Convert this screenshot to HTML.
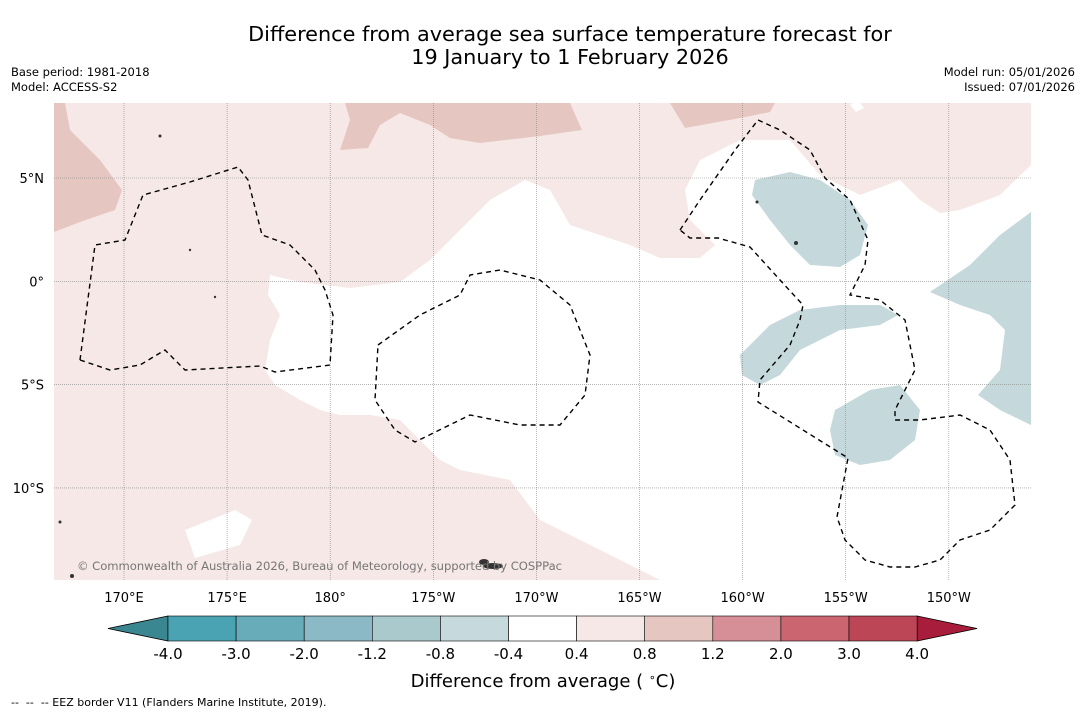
<!DOCTYPE html>
<html><head><meta charset="utf-8"><style>
body{margin:0;background:#fff;width:1085px;height:713px;overflow:hidden;font-family:"DejaVu Sans","Liberation Sans",sans-serif;}
svg{display:block}
</style></head><body>
<svg width="1085" height="713" font-family="DejaVu Sans, Liberation Sans, sans-serif">
<text x="570" y="41" font-size="20.8" text-anchor="middle">Difference from average sea surface temperature forecast for</text>
<text x="570" y="64" font-size="20.8" text-anchor="middle">19 January to 1 February 2026</text>
<text x="11" y="76" font-size="11.5">Base period: 1981-2018</text>
<text x="11" y="91" font-size="11.5">Model: ACCESS-S2</text>
<text x="1075" y="76" font-size="11.5" text-anchor="end">Model run: 05/01/2026</text>
<text x="1075" y="91" font-size="11.5" text-anchor="end">Issued: 07/01/2026</text>
<defs><clipPath id="mc"><rect x="54" y="103" width="977" height="477"/></clipPath></defs>
<g clip-path="url(#mc)">
<rect x="54" y="103" width="977" height="477" fill="#f5e8e6"/>
<polygon fill="#fff" points="270,275 300,282 350,288 400,282 430,260 460,230 490,200 525,180 550,190 570,225 600,235 630,245 660,258 700,258 715,245 690,220 685,190 700,160 740,140 790,140 820,175 860,195 900,180 920,200 940,213 960,210 1000,195 1031,165 1031,580 660,580 620,560 580,540 540,520 510,480 460,470 440,460 420,440 400,420 370,415 340,415 320,410 300,400 275,385 265,370 270,340 280,315 268,295"/>
<polygon fill="#fff" points="185,530 235,510 252,520 240,545 195,558"/>
<polygon fill="#fff" points="850,105 858,100 864,108 856,112"/>
<polygon fill="#e6c6c1" points="54,103 65,103 70,130 100,160 122,190 115,210 80,222 54,232"/>
<polygon fill="#e6c6c1" points="345,103 570,103 582,130 540,136 480,143 450,138 430,125 400,113 380,125 368,148 340,150 350,120"/>
<polygon fill="#e6c6c1" points="670,103 775,103 770,112 740,118 685,128"/>
<polygon fill="#c5d8db" points="755,180 790,172 820,180 850,200 868,225 860,255 840,267 810,265 790,245 770,220 752,195"/>
<polygon fill="#c5d8db" points="740,355 770,325 800,310 840,305 880,305 898,315 880,325 840,330 800,350 780,375 760,385 742,375"/>
<polygon fill="#c5d8db" points="835,410 870,390 900,385 920,410 915,440 890,460 860,465 835,455 830,430"/>
<polygon fill="#c5d8db" points="930,292 970,265 1000,235 1031,212 1031,425 1000,410 978,395 1000,370 1005,330 990,315 960,305"/>
<g id="grid" stroke="#888" stroke-width="0.6" stroke-dasharray="1,1"></g>
<g fill="none" stroke="#000" stroke-width="1.4" stroke-dasharray="5,4">
<polyline points="80,360 95,245 125,240 143,195 190,182 238,167 248,180 262,235 290,245 315,270 325,290 333,315 330,365 275,372 260,366 185,370 165,350 140,365 110,370 80,360"/>
<polyline points="378,345 420,315 460,295 470,275 500,270 540,280 570,305 590,355 585,395 560,425 520,425 470,415 415,442 395,430 375,400 378,345"/>
<polyline points="680,230 700,200 735,150 758,120 780,130 810,150 825,178 850,200 868,240 865,265 850,295 880,300 905,320 915,370 895,410 895,420 920,420 960,415 990,430 1010,460 1015,505 990,530 960,540 940,560 915,567 890,567 865,560 845,540 837,517 848,458 758,402 760,380 790,345 800,320 803,305 780,280 750,247 718,238 690,238 680,230"/>
</g>
<g fill="#333">
<ellipse cx="493" cy="566" rx="10" ry="3"/><ellipse cx="484" cy="562" rx="5" ry="3"/><circle cx="72" cy="576" r="2"/><circle cx="796" cy="243" r="2"/><circle cx="757" cy="202" r="1.5"/><circle cx="160" cy="136" r="1.5"/><circle cx="190" cy="250" r="1.2"/><circle cx="215" cy="297" r="1.2"/><circle cx="60" cy="522" r="1.5"/>
</g>
<text x="77" y="570" font-size="11.6" fill="#777" textLength="485">© Commonwealth of Australia 2026, Bureau of Meteorology, supported by COSPPac</text>
</g>
<g id="axlabels" font-size="13"></g>
<g id="cbar"></g>
<text x="543" y="687" font-size="18" text-anchor="middle">Difference from average ( <tspan baseline-shift="super" font-size="11">∘</tspan>C)</text>
<text x="11" y="706" font-size="11" xml:space="preserve">--  --  -- EEZ border V11 (Flanders Marine Institute, 2019).</text>
</svg>
<script>
const lonTicks=["170°E","175°E","180°","175°W","170°W","165°W","160°W","155°W","150°W"];
const latTicks=["5°N","0°","5°S","10°S"];
const cbarLabels=["-4.0","-3.0","-2.0","-1.2","-0.8","-0.4","0.4","0.8","1.2","2.0","3.0","4.0"];
const cbarColors=["#4aa3b2","#68acb9","#8bbac6","#a9c9cc","#c6d9dc","#ffffff","#f5e8e6","#e6c6c1","#d68f97","#cb6570","#bd4656"];
const NS="http://www.w3.org/2000/svg";
const lonX=i=>124+i*103.1, latY=i=>178+i*103.3;
const grid=document.getElementById('grid'), ax=document.getElementById('axlabels');
lonTicks.forEach((t,i)=>{
 const l=document.createElementNS(NS,'line');l.setAttribute('x1',lonX(i));l.setAttribute('x2',lonX(i));l.setAttribute('y1',103);l.setAttribute('y2',580);
 
 
 grid.appendChild(l);
 const tx=document.createElementNS(NS,'text');tx.setAttribute('x',lonX(i));tx.setAttribute('y',602);tx.setAttribute('text-anchor','middle');tx.textContent=t;
 
 
 ax.appendChild(tx);
});
latTicks.forEach((t,i)=>{
 const l=document.createElementNS(NS,'line');l.setAttribute('y1',latY(i));l.setAttribute('y2',latY(i));l.setAttribute('x1',54);l.setAttribute('x2',1031);
 
 
 grid.appendChild(l);
 const tx=document.createElementNS(NS,'text');tx.setAttribute('x',44);tx.setAttribute('y',latY(i)+5);tx.setAttribute('text-anchor','end');tx.textContent=t;
 
 
 ax.appendChild(tx);
});
const cb=document.getElementById('cbar');
const x0=168,w=68.1,y0=616,h=25;
const tl=document.createElementNS(NS,'polygon');tl.setAttribute('points',`108,${y0+h/2} ${x0},${y0} ${x0},${y0+h}`);tl.setAttribute('fill','#3b8791');tl.setAttribute('stroke','#000');tl.setAttribute('stroke-width','0.8');


cb.appendChild(tl);
const xe=x0+w*cbarColors.length;
const tr=document.createElementNS(NS,'polygon');tr.setAttribute('points',`${xe},${y0} ${xe+60},${y0+h/2} ${xe},${y0+h}`);tr.setAttribute('fill','#a81d3c');tr.setAttribute('stroke','#000');tr.setAttribute('stroke-width','0.8');


cb.appendChild(tr);
cbarColors.forEach((c,i)=>{
 const r=document.createElementNS(NS,'rect');r.setAttribute('x',x0+i*w);r.setAttribute('y',y0);r.setAttribute('width',w);r.setAttribute('height',h);r.setAttribute('fill',c);r.setAttribute('stroke','#000');r.setAttribute('stroke-width','0.6');
 
 
 cb.appendChild(r);
});
cbarLabels.forEach((t,i)=>{
 const tx=document.createElementNS(NS,'text');tx.setAttribute('x',x0+i*w);tx.setAttribute('y',659);tx.setAttribute('text-anchor','middle');tx.setAttribute('font-size','15');tx.textContent=t;
 
 
 cb.appendChild(tx);
});
</script>
</body></html>
